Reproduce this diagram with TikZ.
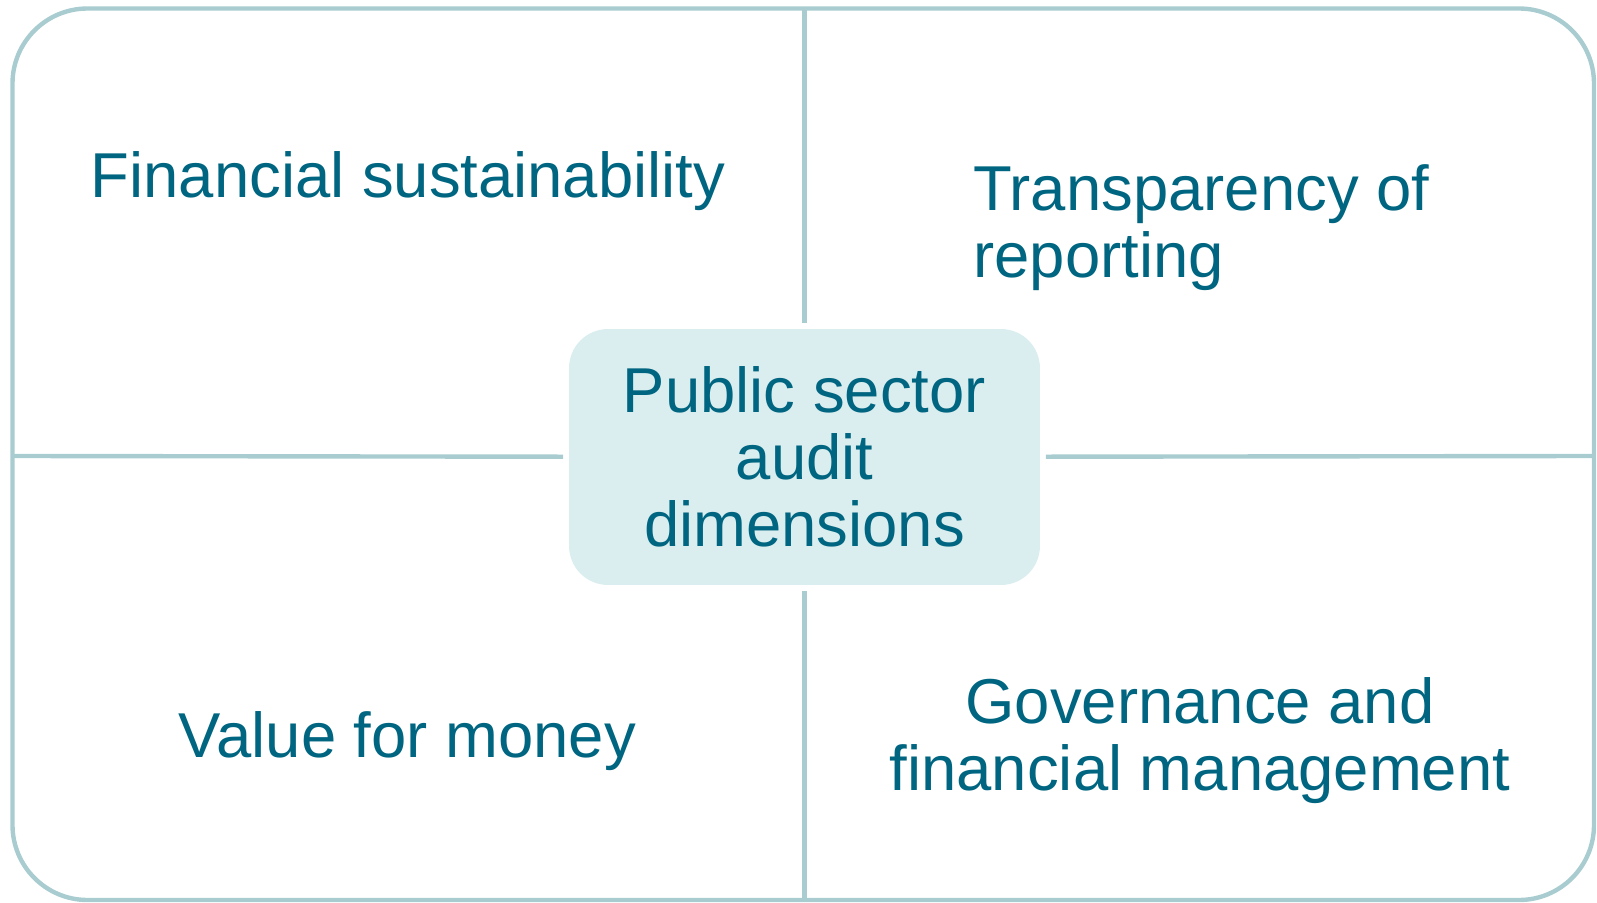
\documentclass[tikz,border=0pt]{standalone}
\usepackage{fontspec}
\setmainfont{Liberation Sans}

\definecolor{dimtext}{RGB}{0,101,128}
\definecolor{dimline}{RGB}{168,204,208}
\definecolor{dimfill}{RGB}{218,237,239}

\begin{document}
\begin{tikzpicture}[
    x=0.02cm, y=-0.02cm,
    bigfont/.style={font=\fontsize{36.1pt}{38.1pt}\selectfont},
    dimlabel/.style={bigfont, text=dimtext, inner sep=0pt},
    divider/.style={draw=dimline, line width=2.5pt},
    hub/.style={rectangle, rounded corners=0.78cm, fill=dimfill, minimum width=9.42cm, minimum height=5.12cm, outer sep=0.12cm, inner sep=0pt, align=center, bigfont, text=dimtext}
  ]
    \useasboundingbox (0,0) rectangle (1597,903);
    % frame and the points where the dividers meet it
    \draw[divider, rounded corners=1.5cm] (12.5,8.5) rectangle (1594,900);
    \coordinate (top) at (804.5,8.5);
    \coordinate (bottom) at (804.5,900);
    \coordinate (left) at (12.5,456);
    \coordinate (right) at (1594,456);

    \node[hub] (hub) at (804.5,457) {Public sector\\audit\\dimensions};

    \draw[divider] (hub) -- (top);
    \draw[divider] (hub) -- (bottom);
    \draw[divider] (hub) -- (left);
    \draw[divider] (hub) -- (right);

    % the four quadrants (base = baseline of the last line)
    \node[dimlabel, anchor=base] (finance) at (408,197) {Financial sustainability};
    \node[dimlabel, anchor=base west, align=left] (transparency) at (973,277) {Transparency of\\reporting};
    \node[dimlabel, anchor=base] (value) at (407.5,757) {Value for money};
    \node[dimlabel, anchor=base, align=center] (governance) at (1200,790) {Governance and\\financial management};
  \end{tikzpicture}
\end{document}
